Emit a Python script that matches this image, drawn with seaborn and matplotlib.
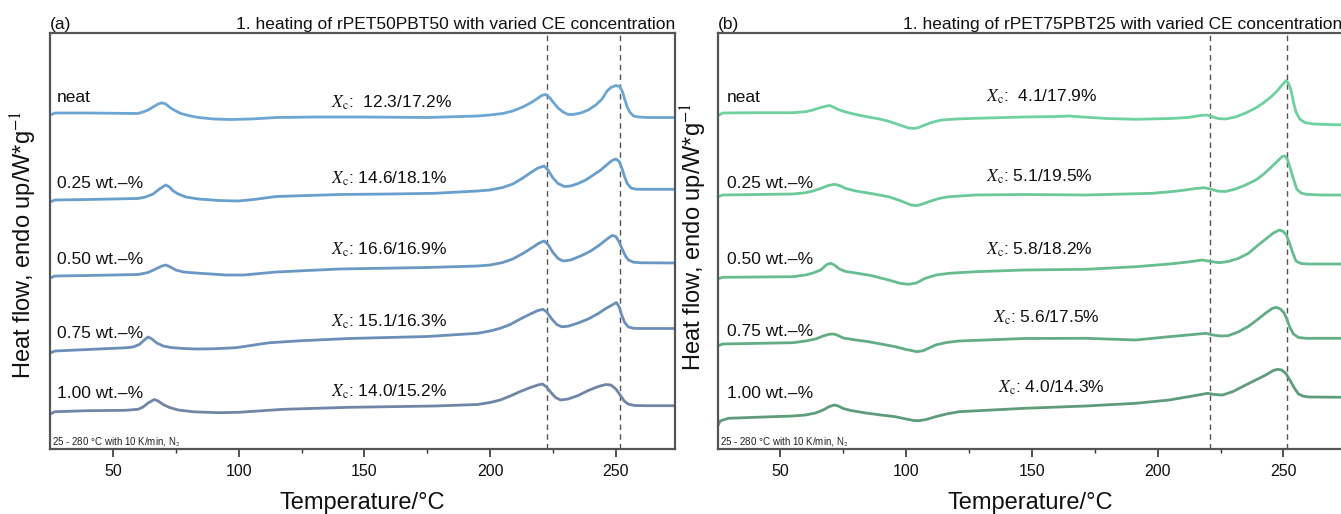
import pandas as pd
import matplotlib.pyplot as plt
import seaborn as sns

samples = ["neat", "0.25 wt.–%", "0.50 wt.–%", "0.75 wt.–%", "1.00 wt.–%"]

# (a) rPET50PBT50, heat flow (shifted, W/g)
a_neat_T = [25, 27, 40, 60, 62, 64, 66, 68, 69.5, 71, 73, 75, 77, 80, 84, 90, 97, 105, 115, 130, 150, 175, 195,
            200, 205, 209, 213, 216, 218.5, 220.5, 222, 223.5, 225, 227, 229, 231, 233, 236, 239, 242, 244.5, 246.5,
            248, 250, 251.5, 252.5, 253.5, 254.5, 255.5, 257, 259, 262, 275]
a_neat_hf = [3.34, 3.36, 3.36, 3.355, 3.37, 3.39, 3.42, 3.45, 3.462, 3.45, 3.41, 3.38, 3.355, 3.335, 3.315, 3.30, 3.295,
             3.30, 3.315, 3.32, 3.32, 3.315, 3.33, 3.34, 3.355, 3.38, 3.42, 3.46, 3.50, 3.535, 3.545, 3.52, 3.47, 3.41,
             3.37, 3.345, 3.345, 3.36, 3.39, 3.44, 3.50, 3.58, 3.615, 3.635, 3.625, 3.58, 3.50, 3.42, 3.37, 3.33, 3.32,
             3.315, 3.315]
a_025_T = [25, 27, 40, 60, 63, 66, 68.5, 71, 72.5, 74, 76, 79, 84, 92, 100, 106, 115, 140, 160, 178, 195, 200, 205,
           209, 213, 216.5, 219, 221.5, 223, 225, 227, 229.5, 232, 235, 238, 241, 244, 246.5, 248.5, 250, 251.3, 252.5,
           253.5, 254.5, 256, 258, 262, 275]
a_025_hf = [2.47, 2.49, 2.495, 2.505, 2.52, 2.55, 2.60, 2.64, 2.62, 2.58, 2.55, 2.52, 2.50, 2.485, 2.48, 2.495, 2.525,
            2.545, 2.55, 2.557, 2.58, 2.59, 2.615, 2.65, 2.71, 2.77, 2.81, 2.83, 2.79, 2.71, 2.655, 2.625, 2.63, 2.655,
            2.69, 2.74, 2.79, 2.845, 2.885, 2.90, 2.875, 2.80, 2.72, 2.655, 2.61, 2.598, 2.597, 2.597]
a_050_T = [25, 27, 40, 60, 64, 67, 69.5, 71, 72.5, 75, 78, 83, 95, 102, 115, 140, 175, 195, 200, 205, 209, 213, 216.5,
           219.5, 221.5, 223, 225, 227, 229, 232, 236, 240, 243.5, 246.5, 248.5, 250, 251.3, 252.5, 253.8, 255, 257,
           260, 275]
a_050_hf = [1.71, 1.73, 1.735, 1.745, 1.765, 1.80, 1.83, 1.84, 1.825, 1.79, 1.77, 1.76, 1.74, 1.74, 1.77, 1.80, 1.815,
            1.83, 1.84, 1.865, 1.90, 1.955, 2.01, 2.06, 2.08, 2.045, 1.965, 1.905, 1.88, 1.89, 1.93, 1.98, 2.04, 2.10,
            2.135, 2.125, 2.07, 2.00, 1.93, 1.89, 1.868, 1.862, 1.86]
a_075_T = [25, 27, 40, 55, 58, 60.5, 62.5, 64, 65.5, 67.5, 70, 73, 78, 83, 90, 99, 112, 125, 144, 175, 195, 200, 204,
           208, 212, 216, 219, 221, 222.5, 224.5, 226.5, 228.5, 231, 235, 239, 243, 246, 248.5, 250.2, 251.3, 252.3,
           253.5, 255, 257, 260, 275]
a_075_hf = [0.96, 0.98, 0.995, 1.012, 1.02, 1.045, 1.09, 1.12, 1.10, 1.06, 1.03, 1.015, 1.005, 1.00, 1.002, 1.013,
            1.062, 1.083, 1.105, 1.125, 1.157, 1.18, 1.207, 1.245, 1.30, 1.35, 1.385, 1.397, 1.37, 1.30, 1.245, 1.222,
            1.228, 1.26, 1.30, 1.355, 1.405, 1.44, 1.465, 1.42, 1.34, 1.265, 1.22, 1.207, 1.205, 1.205]
a_100_T = [25, 27, 40, 55, 60, 62, 64, 66.4, 68, 70, 72.5, 76, 82, 92, 100, 118, 144, 178, 195, 200, 204, 208, 212,
           216, 219, 220.8, 222.2, 224, 226, 228, 231, 235, 239, 243, 246, 248, 250, 251.7, 253.3, 255, 257.5, 262, 275]
a_100_hf = [0.35, 0.373, 0.383, 0.387, 0.397, 0.42, 0.46, 0.495, 0.48, 0.445, 0.415, 0.39, 0.372, 0.363, 0.367, 0.397,
            0.417, 0.43, 0.445, 0.465, 0.49, 0.53, 0.575, 0.615, 0.64, 0.65, 0.625, 0.57, 0.515, 0.49, 0.50, 0.535,
            0.585, 0.625, 0.645, 0.64, 0.60, 0.54, 0.48, 0.448, 0.435, 0.433, 0.433]

# (b) rPET75PBT25
b_neat_T = [25, 27, 40, 55, 60, 63, 66, 68.5, 69.7, 71, 73, 76, 80, 85, 90, 94, 98, 101, 103, 105, 107.5, 110, 114,
            120, 127.6, 147, 160, 165, 170, 180, 191.3, 205, 212, 217, 219.5, 221.5, 224, 227, 231, 235, 239, 242, 245,
            247.5, 249.5, 251, 252, 253, 254, 255, 256.5, 258.5, 262, 268, 275]
b_neat_hf = [3.33, 3.36, 3.363, 3.363, 3.373, 3.39, 3.415, 3.43, 3.435, 3.42, 3.395, 3.37, 3.345, 3.32, 3.297, 3.27,
             3.235, 3.21, 3.205, 3.215, 3.24, 3.265, 3.29, 3.30, 3.307, 3.32, 3.325, 3.33, 3.32, 3.305, 3.297, 3.305,
             3.315, 3.335, 3.34, 3.325, 3.305, 3.30, 3.32, 3.36, 3.41, 3.46, 3.52, 3.58, 3.64, 3.683, 3.66, 3.59, 3.47,
             3.37, 3.30, 3.265, 3.25, 3.245, 3.24]
b_025_T = [25, 27, 55, 60, 63, 66, 69, 71.5, 73.5, 76, 80, 86, 93, 98, 102, 104, 106, 109, 113, 117, 127.6, 147, 171.4,
           198, 206, 211, 215, 218.5, 221, 224, 227, 231, 235, 239, 242, 245, 247.5, 249.5, 250.7, 251.7, 252.8, 254,
           255.3, 257, 259, 265, 275]
b_025_hf = [2.52, 2.54, 2.55, 2.563, 2.58, 2.605, 2.635, 2.647, 2.635, 2.605, 2.58, 2.555, 2.523, 2.48, 2.44, 2.433,
            2.445, 2.473, 2.505, 2.523, 2.54, 2.545, 2.54, 2.557, 2.575, 2.59, 2.605, 2.613, 2.60, 2.578, 2.575, 2.60,
            2.64, 2.69, 2.745, 2.815, 2.875, 2.925, 2.93, 2.89, 2.80, 2.70, 2.60, 2.56, 2.547, 2.54, 2.54]
b_050_T = [25, 27, 55, 60, 63, 66, 68.5, 70, 71.5, 73.5, 76, 80, 86, 93, 98, 101, 104, 107.6, 112, 117, 127.6, 147,
           171.4, 191.3, 204.6, 212, 217.9, 221, 224.5, 228, 232, 236, 240, 243, 246, 248.4, 250, 251.2, 252.4, 253.6,
           255, 257, 260, 275]
b_050_hf = [1.70, 1.717, 1.723, 1.74, 1.76, 1.79, 1.845, 1.857, 1.84, 1.80, 1.775, 1.76, 1.735, 1.69, 1.655, 1.647,
            1.66, 1.707, 1.74, 1.757, 1.773, 1.79, 1.797, 1.823, 1.85, 1.87, 1.89, 1.875, 1.863, 1.875, 1.905, 1.955,
            2.04, 2.10, 2.16, 2.19, 2.175, 2.14, 2.06, 1.97, 1.88, 1.855, 1.85, 1.85]
b_075_T = [25, 27, 55, 60, 64, 67, 69.5, 71, 72.5, 75, 80, 85, 90, 95.7, 100, 104.4, 107, 111.7, 116, 121, 147, 171.4,
           191.3, 204.6, 212, 219.2, 222, 225, 228, 232, 236, 240, 243, 245.5, 247.1, 248.8, 250.3, 251.5, 252.6, 254,
           256, 259, 275]
b_075_hf = [1.03, 1.05, 1.063, 1.08, 1.10, 1.13, 1.148, 1.15, 1.14, 1.11, 1.09, 1.073, 1.05, 1.023, 0.995, 0.973,
            0.985, 1.04, 1.065, 1.08, 1.105, 1.107, 1.09, 1.123, 1.14, 1.157, 1.14, 1.13, 1.133, 1.17, 1.225, 1.30,
            1.36, 1.405, 1.417, 1.40, 1.36, 1.29, 1.215, 1.15, 1.115, 1.107, 1.107]
b_100_T = [25, 26, 29.3, 40, 55, 60, 64, 67, 69.5, 71.5, 73, 75, 78, 84, 90, 95.7, 100, 103, 105, 108, 111.7, 116,
           121, 134.2, 147, 171.4, 191.3, 204.6, 213.9, 219.9, 222.5, 225.8, 230, 235, 239, 243, 246, 247.7, 249.3,
           251, 252.8, 254.4, 256, 257.7, 260, 275]
b_100_hf = [0.223, 0.28, 0.307, 0.317, 0.33, 0.34, 0.36, 0.39, 0.425, 0.44, 0.43, 0.405, 0.385, 0.36, 0.34, 0.323,
            0.30, 0.285, 0.283, 0.295, 0.323, 0.35, 0.373, 0.39, 0.407, 0.43, 0.457, 0.49, 0.53, 0.557, 0.545, 0.54,
            0.575, 0.64, 0.69, 0.74, 0.785, 0.797, 0.79, 0.755, 0.68, 0.607, 0.55, 0.53, 0.52, 0.517]

xc_a = ["12.3/17.2%", "14.6/18.1%", "16.6/16.9%", "15.1/16.3%", "14.0/15.2%"]
xc_b = ["4.1/17.9%", "5.1/19.5%", "5.8/18.2%", "5.6/17.5%", "4.0/14.3%"]
peaks_a = [222.5, 251.5]
peaks_b = [220.8, 251.5]

sns.set_theme(style="ticks")
plt.rcParams["font.family"] = ["Liberation Sans", "DejaVu Sans"]
plt.rcParams["mathtext.fontset"] = "stix"


def make_df(Ts, hfs):
    parts = []
    for s, t, h in zip(samples, Ts, hfs):
        parts.append(pd.DataFrame({"T": t, "hf": h, "sample": s}))
    return pd.concat(parts, ignore_index=True)


df_a = make_df([a_neat_T, a_025_T, a_050_T, a_075_T, a_100_T],
               [a_neat_hf, a_025_hf, a_050_hf, a_075_hf, a_100_hf])
df_b = make_df([b_neat_T, b_025_T, b_050_T, b_075_T, b_100_T],
               [b_neat_hf, b_025_hf, b_050_hf, b_075_hf, b_100_hf])

pal_a = ["#6ba6d4", "#689fcd", "#6a97c3", "#6c8fb8", "#6f86a6"]
pal_b = ["#6fd0a0", "#6bc99a", "#67bd90", "#62ad85", "#5f9c7b"]

fig = plt.figure(figsize=(13.41, 5.14), dpi=100)
ax_a = fig.add_axes([50 / 1341, 65 / 514, 625 / 1341, 416 / 514])
ax_b = fig.add_axes([717.5 / 1341, 65 / 514, 625 / 1341, 416 / 514])

panels = [
    (ax_a, df_a, pal_a, peaks_a, xc_a, "(a)", "1. heating of rPET50PBT50 with varied CE concentration",
     [3.52, 2.66, 1.90, 1.16, 0.56], 27.7, [3.46, 2.70, 1.99, 1.27, 0.57], [136.7] * 5, -0.018, 0.49),
    (ax_b, df_b, pal_b, peaks_b, xc_b, "(b)", "1. heating of rPET75PBT25 with varied CE concentration",
     [3.52, 2.66, 1.89, 1.17, 0.56], 28.7, [3.52, 2.72, 1.99, 1.31, 0.61], [131.8, 131.8, 131.8, 134.4, 136.5], -0.013, 0.51),
]

for ax, df, pal, peaks, xc, tag, title, lab_y, lab_x, xc_y, xc_x, ylx, yly in panels:
    sns.lineplot(data=df, x="T", y="hf", hue="sample", palette=pal, estimator=None,
                 sort=False, legend=False, lw=2.0, ax=ax)
    for line in ax.get_lines():
        line.set_solid_joinstyle("round")
    for p in peaks:
        ax.axvline(p, color="#555555", lw=1.0, ls=(0, (4, 3)), zorder=1)
    for s, y in zip(samples, lab_y):
        ax.text(lab_x, y, s, fontsize=12.5, va="center", ha="left", color="#111111")
    for i, (v, x, y) in enumerate(zip(xc, xc_x, xc_y)):
        sep = ":  " if i == 0 else ": "
        ax.text(x, y, r"$X_\mathrm{c}$" + sep + v, fontsize=12.5, va="center", ha="left", color="#111111")
    ax.text(25.8, 0.07, "25 - 280 °C with 10 K/min, N$_2$", fontsize=7, va="center", ha="left", color="#222222")

    ax.set_xlim(25, 273.5)
    ax.set_ylim(0, 4.16)
    ax.set_yticks([])
    ax.set_xticks([50, 100, 150, 200, 250])
    ax.set_xticks([75, 125, 175, 225], minor=True)
    ax.tick_params(axis="x", which="major", direction="out", length=6, width=1.2, labelsize=11.5, pad=5, colors="#333333")
    ax.tick_params(axis="x", which="minor", direction="out", length=3, width=1.0, colors="#333333")
    ax.tick_params(axis="x", labelcolor="#111111")
    for sp in ax.spines.values():
        sp.set_color("#555555")
        sp.set_linewidth(1.6)
    ax.set_xlabel("Temperature/°C", fontsize=17, labelpad=9, color="#111111")
    ax.set_ylabel(r"Heat flow, endo up/W*g$^{-1}$", fontsize=17, color="#111111")
    ax.yaxis.set_label_coords(ylx, yly)
    ax.set_title(tag, loc="left", fontsize=12.5, pad=3, color="#111111")
    ax.set_title(title, loc="right", fontsize=12.5, pad=3, color="#111111")

fig.savefig("out.png", dpi=100)
